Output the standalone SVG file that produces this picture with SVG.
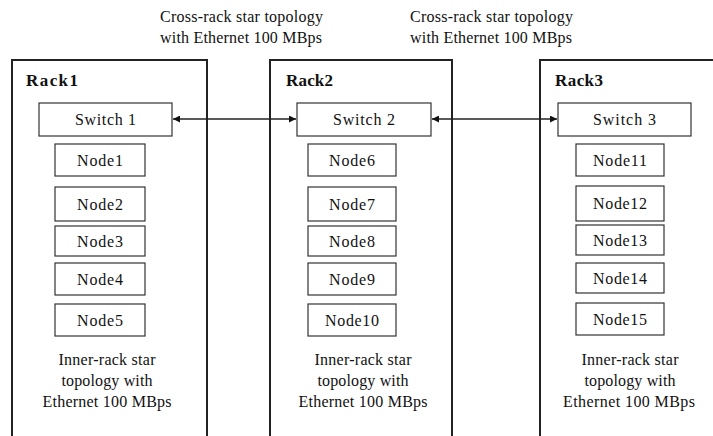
<svg xmlns="http://www.w3.org/2000/svg" width="713" height="436" viewBox="0 0 713 436" font-family="'Liberation Serif', 'DejaVu Serif', serif">
  <style>
    text { font-family: "Liberation Serif", "DejaVu Serif", serif; font-size: 16px; fill: #111; }
    .rack { fill: none; stroke: #222; stroke-width: 2; }
    .rack-label { font-weight: bold; font-size: 17px; }
    .box { fill: #fff; stroke: #333; stroke-width: 1.2; }
    .mid { text-anchor: middle; }
    .link { stroke: #222; stroke-width: 1.3; fill: none; marker-start: url(#head); marker-end: url(#head); }
  </style>
  <defs>
    <marker id="head" viewBox="0 0 10 10" refX="10" refY="5" markerWidth="9" markerHeight="7" markerUnits="userSpaceOnUse" orient="auto-start-reverse">
      <path d="M0,0 L10,5 L0,10 z" fill="#111"/>
    </marker>
  </defs>

  <rect width="713" height="436" fill="#fff"/>

  <!-- cross-rack captions -->
  <g id="cross-label-1">
    <text x="160" y="22" textLength="163" lengthAdjust="spacing">Cross-rack star topology</text>
    <text x="160" y="43" textLength="162" lengthAdjust="spacing">with Ethernet 100 MBps</text>
  </g>
  <g id="cross-label-2">
    <text x="410" y="22" textLength="163" lengthAdjust="spacing">Cross-rack star topology</text>
    <text x="410" y="43" textLength="162" lengthAdjust="spacing">with Ethernet 100 MBps</text>
  </g>

  <!-- Rack 1 -->
  <g id="rack1">
    <path class="rack" d="M12,436 V60 H207 V436"/>
    <text class="rack-label" x="26" y="86" textLength="52" lengthAdjust="spacing">Rack1</text>
    <text class="mid" x="107" y="365" textLength="97" lengthAdjust="spacing">Inner-rack star</text>
    <text class="mid" x="107" y="386" textLength="91" lengthAdjust="spacing">topology with</text>
    <text class="mid" x="107" y="407" textLength="129" lengthAdjust="spacing">Ethernet 100 MBps</text>
  </g>
  <g id="switch1">
    <rect class="box" x="39" y="103" width="133" height="33"/>
    <text class="mid" x="105.5" y="125" textLength="61" lengthAdjust="spacing">Switch 1</text>
  </g>
  <g id="node1"><rect class="box" x="55" y="144" width="90" height="32"/><text class="mid" x="100" y="166" textLength="46" lengthAdjust="spacing">Node1</text></g>
  <g id="node2"><rect class="box" x="55" y="187" width="90" height="34"/><text class="mid" x="100" y="210" textLength="46" lengthAdjust="spacing">Node2</text></g>
  <g id="node3"><rect class="box" x="55" y="226" width="90" height="30"/><text class="mid" x="100" y="247" textLength="46" lengthAdjust="spacing">Node3</text></g>
  <g id="node4"><rect class="box" x="55" y="263" width="90" height="32"/><text class="mid" x="100" y="285" textLength="46" lengthAdjust="spacing">Node4</text></g>
  <g id="node5"><rect class="box" x="55" y="304" width="90" height="32"/><text class="mid" x="100" y="326" textLength="46" lengthAdjust="spacing">Node5</text></g>

  <!-- Rack 2 -->
  <g id="rack2">
    <path class="rack" d="M270,436 V60 H452 V436"/>
    <text class="rack-label" x="286" y="86" textLength="47" lengthAdjust="spacing">Rack2</text>
    <text class="mid" x="363" y="365" textLength="97" lengthAdjust="spacing">Inner-rack star</text>
    <text class="mid" x="363" y="386" textLength="91" lengthAdjust="spacing">topology with</text>
    <text class="mid" x="363" y="407" textLength="129" lengthAdjust="spacing">Ethernet 100 MBps</text>
  </g>
  <g id="switch2">
    <rect class="box" x="297" y="103" width="134" height="33"/>
    <text class="mid" x="364" y="125" textLength="62" lengthAdjust="spacing">Switch 2</text>
  </g>
  <g id="node6"><rect class="box" x="308" y="144" width="88" height="32"/><text class="mid" x="352" y="166" textLength="46" lengthAdjust="spacing">Node6</text></g>
  <g id="node7"><rect class="box" x="308" y="187" width="88" height="34"/><text class="mid" x="352" y="210" textLength="46" lengthAdjust="spacing">Node7</text></g>
  <g id="node8"><rect class="box" x="308" y="226" width="88" height="30"/><text class="mid" x="352" y="247" textLength="46" lengthAdjust="spacing">Node8</text></g>
  <g id="node9"><rect class="box" x="308" y="263" width="88" height="32"/><text class="mid" x="352" y="285" textLength="46" lengthAdjust="spacing">Node9</text></g>
  <g id="node10"><rect class="box" x="308" y="304" width="88" height="32"/><text class="mid" x="352" y="326" textLength="54" lengthAdjust="spacing">Node10</text></g>

  <!-- Rack 3 -->
  <g id="rack3">
    <path class="rack" d="M540,436 V60 H720"/>
    <text class="rack-label" x="555" y="86" textLength="48" lengthAdjust="spacing">Rack3</text>
    <text class="mid" x="630" y="365" textLength="97" lengthAdjust="spacing">Inner-rack star</text>
    <text class="mid" x="630" y="386" textLength="91" lengthAdjust="spacing">topology with</text>
    <text class="mid" x="629" y="407" textLength="132" lengthAdjust="spacing">Ethernet 100 MBps</text>
  </g>
  <g id="switch3">
    <rect class="box" x="558" y="103" width="133" height="33"/>
    <text class="mid" x="624.5" y="125" textLength="63" lengthAdjust="spacing">Switch 3</text>
  </g>
  <g id="node11"><rect class="box" x="576" y="144" width="88" height="32"/><text class="mid" x="620" y="166" textLength="54" lengthAdjust="spacing">Node11</text></g>
  <g id="node12"><rect class="box" x="576" y="186" width="88" height="35"/><text class="mid" x="620" y="209" textLength="54" lengthAdjust="spacing">Node12</text></g>
  <g id="node13"><rect class="box" x="576" y="225" width="88" height="30"/><text class="mid" x="620" y="246" textLength="54" lengthAdjust="spacing">Node13</text></g>
  <g id="node14"><rect class="box" x="576" y="263" width="88" height="30"/><text class="mid" x="620" y="284" textLength="54" lengthAdjust="spacing">Node14</text></g>
  <g id="node15"><rect class="box" x="576" y="303" width="88" height="32"/><text class="mid" x="620" y="325" textLength="54" lengthAdjust="spacing">Node15</text></g>

  <!-- switch-to-switch links -->
  <g id="connectors">
    <line class="link" x1="173" y1="119" x2="296" y2="119"/>
    <line class="link" x1="432" y1="119" x2="557" y2="119"/>
  </g>
</svg>
